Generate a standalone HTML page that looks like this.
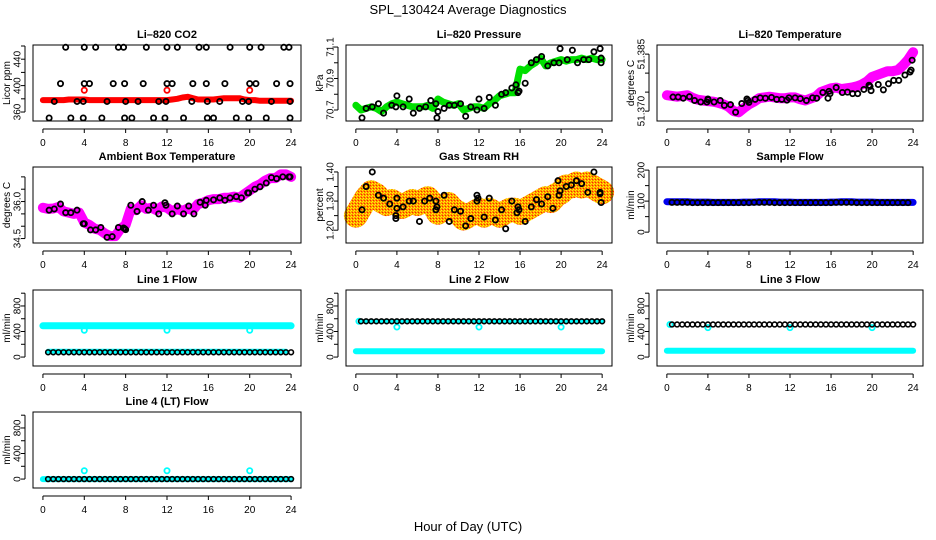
<!DOCTYPE html>
<html><head><meta charset="utf-8"><style>
html,body{margin:0;padding:0;background:#fff}
svg{display:block;font-family:"Liberation Sans",Arial,sans-serif}
</style></head><body>
<svg id="chart" width="936" height="540" viewBox="0 0 936 540" xmlns="http://www.w3.org/2000/svg">
<defs>
<pattern id="rhdots" width="3" height="3" patternUnits="userSpaceOnUse">
<rect width="3" height="3" fill="#ff9900"/><rect x="0" y="0" width="1" height="1" fill="#ffff00"/><rect x="2" y="1" width="1" height="1" fill="#ffee00"/><rect x="1" y="2" width="1" height="1" fill="#ff2200"/>
</pattern>
</defs>
<text x="468" y="14" font-size="13" text-anchor="middle">SPL_130424  Average Diagnostics</text>
<text x="468" y="531" font-size="13" text-anchor="middle">Hour of Day (UTC)</text>
</svg>
<script>
// hours (x categories)
const H = [0,0.5,1,1.5,2,2.5,3,3.5,4,4.5,5,5.5,6,6.5,7,7.5,8,8.5,9,9.5,10,10.5,11,11.5,12,12.5,13,13.5,14,14.5,15,15.5,16,16.5,17,17.5,18,18.5,19,19.5,20,20.5,21,21.5,22,22.5,23,23.5,24];
const xTicks = [0,4,8,12,16,20,24];

const co2Band = [378,378,378,378,378,379,379,379,379,378,378,378,378,378,378,378,378,378,378,378,378,378,378,378,378,379,380,382,383,381,379,379,379,379,380,381,381,381,381,379,378,378,377,377,377,377,377,377,377];
const co2RedX = [4,12,20];
const co2RedY = [393,393,393];
const co2BlackX = [2.2,4,5.1,7.3,7.8,10,12,13,15.1,15.8,18.1,20,21.1,23.3,23.8, 1.7,4,4.5,6.8,7.9,9.7,12,12.5,14.5,15.8,17.6,20,20.6,22.6,23.9, 1.1,3.3,3.9,6.2,8,9.2,11.2,11.9,14.4,15.9,17.1,19.3,19.9,22.1,23.9, 0.6,2.7,3.9,5.7,7.9,8.6,10.7,11.8,13.6,15.9,16.5,18.7,19.9,21.6,23.9];
const co2BlackY = [458,458,458,458,458,458,458,458,458,458,458,458,458,458,458, 403,403,403,403,403,403,403,403,403,403,403,403,403,403,403, 376,376,376,376,376,376,376,376,376,376,376,376,376,376,376, 351,351,351,351,351,351,351,351,351,351,351,351,351,351,351];

const presBand = [70.73,70.70,70.71,70.72,70.71,70.69,70.72,70.74,70.75,70.74,70.73,70.72,70.72,70.72,70.73,70.71,70.77,70.75,70.74,70.73,70.74,70.70,70.71,70.72,70.72,70.71,70.74,70.76,70.79,70.80,70.81,70.81,70.96,70.95,70.98,71.00,71.03,70.98,71.00,71.01,71.02,71.01,71.02,71.02,71.03,71.02,71.03,71.02,71.02];
const presBlackX = [0.6,1,1.6,2.2,2.7,3.5,3.9,4,4.6,5.2,5.6,6.2,6.8,7.3,7.8,7.9,8,8.6,9.1,9.6,10.2,10.7,11.2,11.8,12,12.5,13,13.6,14.2,14.6,15.2,15.6,15.8,15.9,16.5,17.1,17.6,18.1,18.7,19.3,19.8,19.9,20.6,21.1,21.6,22.2,22.7,23.2,23.8,23.9,23.9];
const presBlackY = [70.65,70.71,70.72,70.74,70.68,70.73,70.72,70.79,70.72,70.77,70.68,70.71,70.72,70.76,70.74,70.65,70.69,70.71,70.73,70.73,70.74,70.66,70.72,70.70,70.77,70.71,70.78,70.73,70.80,70.81,70.84,70.86,70.81,70.82,70.87,71.00,71.02,71.04,70.98,71.00,71.00,71.09,71.02,71.08,71.00,71.02,71.02,71.07,71.09,71.00,71.03];

const tempBand = [51.3742,51.3740,51.3738,51.3740,51.3742,51.3735,51.3730,51.3728,51.3726,51.3725,51.3722,51.3718,51.3712,51.3700,51.3697,51.3708,51.3718,51.3725,51.3734,51.3736,51.3738,51.3736,51.3734,51.3734,51.3736,51.3736,51.3731,51.3728,51.3733,51.3738,51.3750,51.3755,51.3760,51.3762,51.3758,51.3760,51.3762,51.3765,51.3770,51.3778,51.3790,51.3795,51.3800,51.3805,51.3805,51.3808,51.3820,51.3835,51.3855];
const tempBlackX = [0.6,1.1,1.6,2.2,2.7,3.3,3.9,4,4,4.6,5.2,5.6,6.2,6.7,7.3,7.8,7.9,8,8.6,9.1,9.6,10.2,10.7,11.2,11.7,11.9,12.5,13,13.6,14.2,14.6,15.2,15.7,15.8,15.9,16.5,17.1,17.6,18.1,18.6,19.2,19.7,19.8,19.9,20.6,21.1,21.6,22.1,22.6,23.2,23.7,23.8,23.9];
const tempBlackY = [51.3737,51.3737,51.3734,51.3738,51.3728,51.3724,51.3724,51.3730,51.3732,51.3724,51.3728,51.3715,51.3717,51.3697,51.3720,51.3732,51.3728,51.3723,51.3731,51.3735,51.3734,51.3736,51.3731,51.3731,51.3729,51.3735,51.3735,51.3733,51.3728,51.3735,51.3734,51.3749,51.3734,51.3752,51.3746,51.3762,51.3749,51.3750,51.3746,51.3746,51.3757,51.3768,51.3765,51.3754,51.3770,51.3756,51.3772,51.3781,51.3781,51.3795,51.3803,51.3808,51.3834];

const ambBand = [35.75,35.70,35.72,35.78,35.60,35.55,35.50,35.55,35.15,35.05,34.90,34.85,34.70,34.60,34.60,34.90,35.05,35.70,35.65,35.85,35.70,35.75,35.65,35.80,35.75,35.60,35.70,35.62,35.72,35.65,35.90,35.95,36.05,36.10,36.10,36.15,36.15,36.20,36.15,36.30,36.45,36.60,36.70,36.85,36.95,36.95,37.10,37.10,37.00];
const ambBlackX = [0.6,1.1,1.7,2.2,2.7,3.3,3.9,4,4.6,5.1,5.6,6.2,6.7,7.3,7.8,7.9,8,8.5,9.1,9.6,10.2,10.7,11.2,11.8,11.9,12.5,13,13.6,14.1,14.6,15.2,15.7,15.8,16.5,17.1,17.6,18.1,18.7,19.2,19.8,19.9,20.5,21,21.6,22.1,22.6,23.2,23.8,23.9];
const ambBlackY = [35.65,35.70,35.90,35.55,35.55,35.65,35.10,35.10,34.85,34.85,34.95,34.55,34.58,34.95,34.93,34.90,34.86,35.85,35.60,36.00,35.65,35.85,35.50,35.95,35.85,35.50,35.82,35.50,35.82,35.50,35.97,35.85,36.05,36.07,36.15,36.05,36.15,36.20,36.15,36.35,36.35,36.50,36.60,36.75,36.97,36.93,37.00,37.00,37.00];

const rhBand = [1.25,1.28,1.31,1.33,1.32,1.30,1.29,1.30,1.29,1.28,1.29,1.30,1.29,1.30,1.31,1.29,1.26,1.28,1.29,1.27,1.26,1.24,1.25,1.26,1.27,1.25,1.27,1.26,1.25,1.26,1.27,1.27,1.26,1.27,1.28,1.29,1.30,1.31,1.30,1.32,1.33,1.35,1.35,1.36,1.35,1.36,1.35,1.34,1.33];
const rhBlackX = [0.6,1,1.6,2.2,2.7,3.3,3.9,3.9,4,4,4.6,5.2,5.6,6.2,6.7,7.2,7.8,7.8,7.9,8.6,9.1,9.6,10.2,10.7,11.2,11.8,11.8,11.9,12.5,13,13.6,14.2,14.6,15.2,15.7,15.8,15.9,16.5,17.1,17.6,18.1,18.7,19.2,19.7,19.8,19.9,20.5,21,21.5,22,22.6,23.2,23.8,23.8,23.9];
const rhBlackY = [1.27,1.35,1.40,1.32,1.31,1.29,1.24,1.25,1.31,1.275,1.28,1.30,1.30,1.23,1.30,1.31,1.30,1.27,1.28,1.32,1.23,1.27,1.265,1.215,1.24,1.30,1.32,1.31,1.245,1.31,1.235,1.27,1.205,1.30,1.26,1.28,1.27,1.23,1.28,1.305,1.29,1.315,1.275,1.37,1.32,1.335,1.35,1.355,1.37,1.36,1.33,1.40,1.33,1.325,1.295];

const sampleBand = [98,98,98,98,98,97,97,97,97,96,96,96,96,96,96,97,97,97,98,98,98,98,97,97,97,96,96,96,96,96,96,96,97,97,98,98,98,97,97,97,97,96,96,96,96,96,96,96,96];
const sampleBlack = [96,96,96,96,96,95,95,95,95,95,95,95,95,95,95,95,95,96,96,96,96,95,95,95,95,95,95,95,95,95,95,95,95,96,96,96,96,95,95,95,95,95,95,95,95,95,95,95,95];

const dipX = [4,12,20];
const l1High = 490, l1Low = 90, l1Black = 75, l1Dip = [420,420,420];
const l2High = 90, l2Black = 560, l2Dip = [470,470,470];
const l3High = 100, l3Black = 510, l3Dip = [460,460,460];
const l4Band = 0, l4Black = 0, l4Dip = [130,130,130];

const NS = 'http://www.w3.org/2000/svg';
const svg = document.getElementById('chart');
function mk(tag, attrs, parent){ const e=document.createElementNS(NS,tag); for(const k in attrs) e.setAttribute(k,attrs[k]); (parent||svg).appendChild(e); return e; }

const colL=[33,346,657], colW=[268,266,266];
const rowT=[45,167,290,412], rowH=76;

function panel(name,c,r,title,ylab,ymin,ymax,ticks,labels){
  const g=mk('g',{});
  
  
  const L=colL[c],W=colW[c],T=rowT[r],B=T+rowH;
  const sx=v=>L+(v+0.96)/25.92*W;
  const sy=v=>B-(v-ymin)/(ymax-ymin)*rowH;
  const t=mk('text',{x:L+W/2,y:T-7,'font-size':11,'font-weight':'bold','text-anchor':'middle'},g);
  t.textContent=title;
  
  
  const yl=mk('text',{x:0,y:0,'font-size':10,'text-anchor':'middle',transform:`translate(${L-23},${T+rowH/2}) rotate(-90)`},g);
  yl.textContent=ylab;
  
  
  const data=mk('g',{},g);
  
  
  const box=mk('rect',{x:L,y:T,width:W,height:rowH,fill:'none',stroke:'#000','stroke-width':1},g);
  
  
  mk('line',{x1:sx(0),x2:sx(24),y1:B+8,y2:B+8,stroke:'#000'},g);
  xTicks.forEach(v=>{
    mk('line',{x1:sx(v),x2:sx(v),y1:B+8,y2:B+12,stroke:'#000'},g);
    const tx=mk('text',{x:sx(v),y:B+25,'font-size':10,'text-anchor':'middle'},g);
    tx.textContent=v;
    
    
  });
  mk('line',{x1:L-8,x2:L-8,y1:sy(ticks[0]),y2:sy(ticks[ticks.length-1]),stroke:'#000'},g);
  ticks.forEach(v=>{ mk('line',{x1:L-12,x2:L-8,y1:sy(v),y2:sy(v),stroke:'#000'},g); });
  labels.forEach(v=>{
    const ty=mk('text',{x:0,y:0,'font-size':10,'text-anchor':'middle',transform:`translate(${L-12.5},${sy(+v)}) rotate(-90)`},g);
    ty.textContent=v;
    
    
  });
  return {g:data,sx,sy};
}
function band(p,xs,ys,color,w,name){
  const d=xs.map((x,i)=>(i?'L':'M')+p.sx(x).toFixed(1)+','+p.sy(ys[i]).toFixed(1)).join('');
  const e=mk('path',{d,fill:'none',stroke:color,'stroke-width':w,'stroke-linejoin':'round','stroke-linecap':'round'},p.g);
  
  
}
function pts(p,xs,ys,color,name,r,sw){
  xs.forEach((x,i)=>{
    const e=mk('circle',{cx:p.sx(x),cy:p.sy(ys[i]),r:r||2.6,fill:'none',stroke:color,'stroke-width':sw||1.8},p.g);
    
    
  });
}
const rep=v=>H.map(()=>v);
const flowTicks=[0,200,400,600,800,1000], flowLabels=['0','400','800'];

let p=panel('co2',0,0,'Li–820 CO2','Licor ppm',346.4,461.5,[360,380,400,420,440,460],['360','400','440']);
band(p,H,co2Band,'#ff0000',6,'co2-band'); pts(p,co2RedX,co2RedY,'#ff0000','co2-red-point'); pts(p,co2BlackX,co2BlackY,'#000','co2-point');

p=panel('pressure',1,0,'Li–820 Pressure','kPa',70.630,71.113,[70.7,70.8,70.9,71.0,71.1],['70.7','70.9','71.1']);
band(p,H,presBand,'#00e000',7,'pressure-band'); pts(p,presBlackX,presBlackY,'#000','pressure-point');

p=panel('temperature',2,0,'Li–820 Temperature','degrees C',51.3674,51.3874,[51.370,51.375,51.380,51.385],['51.370','51.385']);
band(p,H,tempBand,'#ff00ff',10,'temperature-band'); pts(p,tempBlackX,tempBlackY,'#000','temperature-point');

p=panel('ambient',0,1,'Ambient Box Temperature','degrees C',34.32,37.40,[34.5,35.0,35.5,36.0,36.5,37.0],['34.5','36.0']);
band(p,H,ambBand,'#ff00ff',10,'ambient-band'); pts(p,ambBlackX,ambBlackY,'#000','ambient-point');

p=panel('rh',1,1,'Gas Stream RH','percent',1.156,1.417,[1.20,1.25,1.30,1.35,1.40],['1.20','1.30','1.40']);
band(p,H,rhBand,'url(#rhdots)',24,'rh-band'); pts(p,rhBlackX,rhBlackY,'#000','rh-point');

p=panel('sample-flow',2,1,'Sample Flow','ml/min',-35,210,[0,50,100,150,200],['0','100','200']);
band(p,H,sampleBand,'#0000ee',7,'sample-band'); pts(p,H.slice(1,48),sampleBlack.slice(1,48),'#000','sample-point');

p=panel('line1',0,2,'Line 1 Flow','ml/min',-140,1050,flowTicks,flowLabels);
band(p,H,rep(l1High),'#00ffff',7,'line1-high-band'); band(p,H.slice(1,48),rep(l1Low).slice(1,48),'#00ffff',5,'line1-low-band');
pts(p,dipX,l1Dip,'#00ffff','line1-dip'); pts(p,H.slice(1),rep(l1Black).slice(1),'#000','line1-point',2.4,1.6);

p=panel('line2',1,2,'Line 2 Flow','ml/min',-140,1050,flowTicks,flowLabels);
band(p,H,rep(l2High),'#00ffff',6,'line2-cyan-band'); pts(p,[0.3],[560],'#00ffff','line2-start');
pts(p,dipX,l2Dip,'#00ffff','line2-dip'); band(p,H.slice(1),rep(l2Black).slice(1),'#00ffff',4,'line2-under');
pts(p,H.slice(1),rep(l2Black).slice(1),'#000','line2-point',2.4,1.6);

p=panel('line3',2,2,'Line 3 Flow','ml/min',-140,1050,flowTicks,flowLabels);
band(p,H,rep(l3High),'#00ffff',6,'line3-cyan-band'); pts(p,[0.3],[510],'#00ffff','line3-start');
pts(p,dipX,l3Dip,'#00ffff','line3-dip'); pts(p,H.slice(1),rep(l3Black).slice(1),'#000','line3-point',2.4,1.6);

p=panel('line4',0,3,'Line 4 (LT) Flow','ml/min',-140,1050,flowTicks,flowLabels);
band(p,H,rep(l4Band),'#00ffff',6,'line4-cyan-band'); pts(p,dipX,l4Dip,'#00ffff','line4-dip');
pts(p,H.slice(1),rep(l4Black).slice(1),'#000','line4-point',2.4,1.6);
</script>
</body></html>
